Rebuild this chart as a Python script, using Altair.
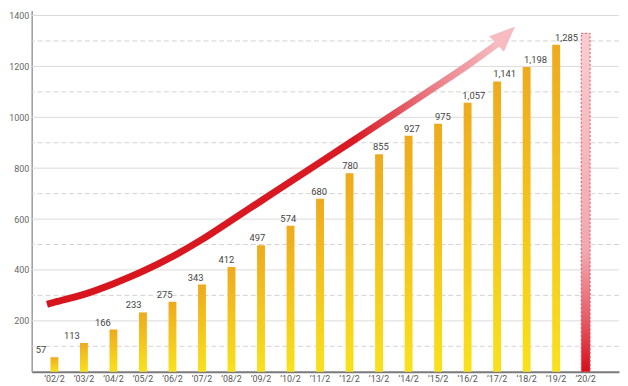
import altair as alt
import pandas as pd

categories = ["’02/2", "’03/2", "’04/2", "’05/2", "’06/2", "’07/2", "’08/2", "’09/2",
              "’10/2", "’11/2", "’12/2", "’13/2", "’14/2", "’15/2", "’16/2", "’17/2",
              "’18/2", "’19/2", "’20/2"]
values = [57, 113, 166, 233, 275, 343, 412, 497, 574, 680, 780, 855, 927, 975,
          1057, 1141, 1198, 1285]
forecast_category = "’20/2"
forecast_value = 1330

# trend arrow (x in category-index units)
curve_x = [-0.25, 0, 1, 2, 3, 4, 5, 6, 7, 8, 9, 10, 11, 12, 13, 14, 15]
curve_y = [265, 273, 304, 346, 395, 453, 520, 596, 672, 748, 824, 900, 976,
           1052, 1128, 1206, 1290]
arrow_x = [15.27]
arrow_y = [1322]
grid_solid = [200, 400, 600, 800, 1000, 1200, 1400]
grid_dashed = [100, 300, 500, 700, 900, 1100, 1300]

bars = pd.DataFrame({"cat": categories[:-1], "v": values})
fc = pd.DataFrame({"cat": [forecast_category], "v": [forecast_value]})
curve = pd.DataFrame({"i": curve_x, "v": curve_y})
arrow = pd.DataFrame({"i": arrow_x, "v": arrow_y})
gs = pd.DataFrame({"v": grid_solid})
gd = pd.DataFrame({"v": grid_dashed})

y_scale = alt.Scale(domain=[0, 1420], nice=False, zero=True)
x_scale = alt.Scale(domain=categories, paddingInner=0, paddingOuter=0.45, align=0.3)
xi_scale = alt.Scale(domain=[-0.7667, 19.1], nice=False, zero=False)

x_axis = alt.Axis(title=None, labelFont="Roboto", labelFontSize=9, labelColor="#555",
                  labelAngle=0, ticks=False, labelPadding=3, domainColor="#7a7a7a",
                  domainWidth=2, grid=False, orient="bottom")
y_axis = alt.Axis(title=None, values=grid_solid, orient="left", format="d",
                  labelFont="Roboto", labelFontSize=9, labelColor="#666",
                  labelPadding=3, ticks=False, domainColor="#9a9a9a", domainWidth=1.5,
                  grid=False)

yellow = alt.Gradient(gradient="linear", x1=0, x2=0, y1=0, y2=1,
                      stops=[alt.GradientStop(offset=0, color="#eeaa1e"),
                             alt.GradientStop(offset=1, color="#f9e11c")])
redbar = alt.Gradient(gradient="linear", x1=0, x2=0, y1=0, y2=1,
                      stops=[alt.GradientStop(offset=0, color="#f8cdd0"),
                             alt.GradientStop(offset=0.65, color="#f2a7ae"),
                             alt.GradientStop(offset=0.85, color="#e55a66"),
                             alt.GradientStop(offset=1, color="#d60f1b")])
redline = alt.Gradient(gradient="linear", x1=0, x2=1, y1=0, y2=0,
                       stops=[alt.GradientStop(offset=0, color="#d7141c"),
                              alt.GradientStop(offset=0.68, color="#da1a23"),
                              alt.GradientStop(offset=0.86, color="#ea7f88"),
                              alt.GradientStop(offset=1, color="#f5bcc1")])

base_y = alt.Y("v:Q", scale=y_scale, axis=y_axis)

solid_layer = alt.Chart(gs).mark_rule(color="#dadada", strokeWidth=1).encode(y=base_y)
dashed_layer = alt.Chart(gd).mark_rule(color="#d2d2d2", strokeWidth=1,
                                       strokeDash=[5, 3]).encode(y=base_y)
bar_layer = alt.Chart(bars).mark_bar(size=8, color=yellow).encode(
    x=alt.X("cat:N", scale=x_scale, axis=x_axis, sort=categories), y=base_y)
fc_layer = alt.Chart(fc).mark_bar(size=9, color=redbar, stroke="#e0505c",
                                  strokeWidth=1, strokeDash=[2, 2]).encode(
    x=alt.X("cat:N", scale=x_scale, axis=None, sort=categories), y=base_y)
text_layer = alt.Chart(bars).mark_text(dy=-7, font="Roboto", fontSize=9.5,
                                       color="#444").encode(
    x=alt.X("cat:N", scale=x_scale, axis=None, sort=categories), y=base_y,
    text=alt.Text("v:Q", format=","))
line_layer = alt.Chart(curve).mark_line(stroke=redline, strokeWidth=7,
                                        interpolate="monotone", strokeCap="butt").encode(
    x=alt.X("i:Q", scale=xi_scale, axis=None), y=base_y)
arrow_layer = alt.Chart(arrow).mark_point(shape="M0,-1L0.85,1L-0.85,1Z", size=650,
                                          angle=47, filled=True, fill="#f6bcc1",
                                          opacity=1, strokeWidth=0).encode(
    x=alt.X("i:Q", scale=xi_scale, axis=None), y=base_y)

chart = alt.layer(solid_layer, dashed_layer, bar_layer, fc_layer, text_layer,
                  line_layer, arrow_layer).resolve_scale(x="independent").properties(
    width=620, height=378, padding=0,
    autosize=alt.AutoSizeParams(type="fit", contains="padding")
).configure_view(stroke=None)

chart.save("out.html", embed_options={"renderer": "svg", "actions": False})
